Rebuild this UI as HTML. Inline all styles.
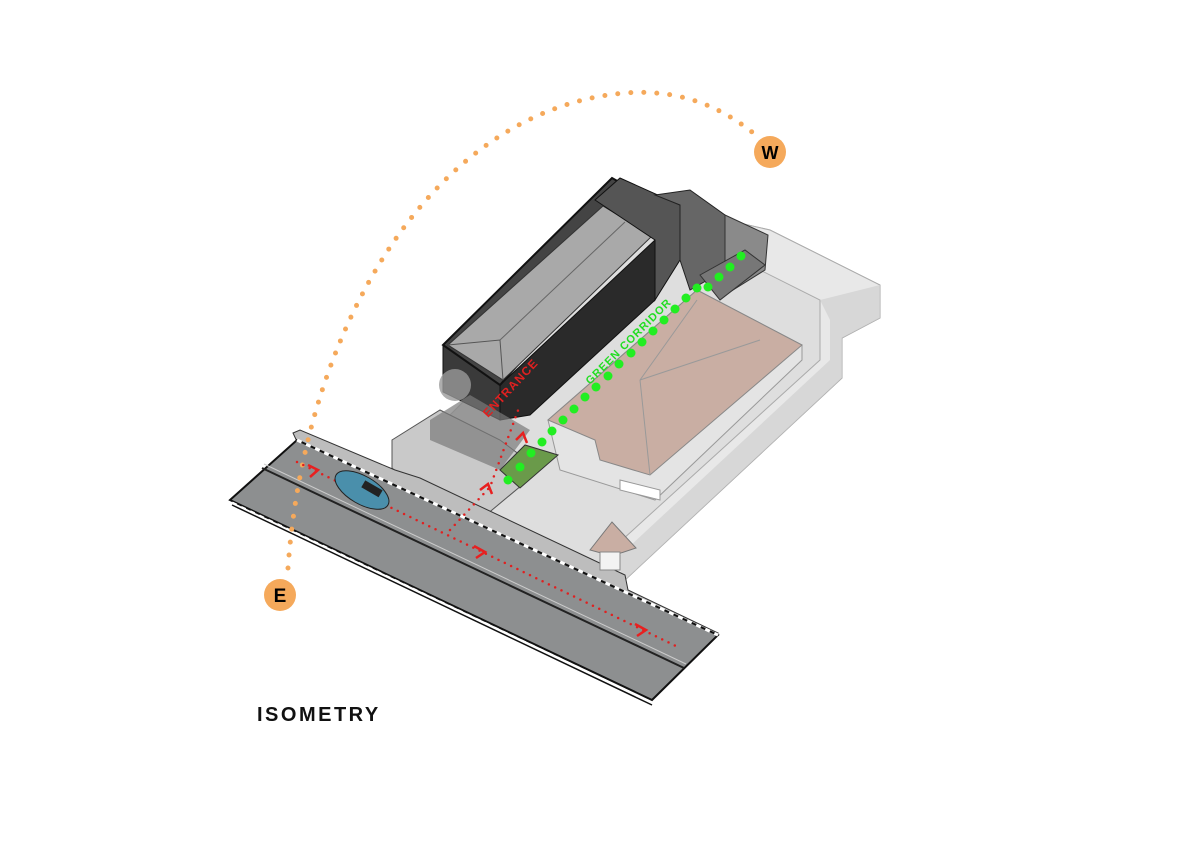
<!DOCTYPE html>
<html><head><meta charset="utf-8"><style>
html,body{margin:0;padding:0;background:#fff;}
svg{display:block;}
</style></head><body>
<svg width="1200" height="848" viewBox="0 0 1200 848" xmlns="http://www.w3.org/2000/svg" font-family="'Liberation Sans',sans-serif">
<rect width="1200" height="848" fill="#fff"/>
<!-- site ground -->
<polygon points="392,468 445,420 660,205 770,230 880,285 880,318 842,338 842,378 625,580" fill="#dedede" stroke="#bbb"/>
<polygon points="660,205 770,230 880,285 880,318 842,338 842,378 625,580 600,560 820,360 820,300 740,260" fill="#e8e8e8" stroke="#aaa"/>
<polygon points="820,300 880,285 880,318 842,338 842,378 625,580 615,560 830,360 830,320" fill="#d0d0d0" opacity=".7"/>
<!-- front plaza -->
<polygon points="392,468 392,440 440,410 500,440 540,470 480,520 420,495" fill="#c9c9c9" stroke="#555"/>
<!-- sidewalk -->
<polygon points="293,433 300,430 395,470 420,478 625,575 628,590 718,633 700,638 620,600 300,448" fill="#bdbdbd" stroke="#333"/>
<!-- road -->
<polygon points="297,440 718,635 652,700 230,500" fill="#8d8f90" stroke="#111" stroke-width="2"/>
<line x1="262" y1="468" x2="684" y2="668" stroke="#222" stroke-width="2"/>
<line x1="264" y1="464" x2="686" y2="664" stroke="#ccc" stroke-width="1"/>
<line x1="297" y1="440" x2="718" y2="635" stroke="#fff" stroke-width="3" stroke-dasharray="5 5"/>
<line x1="232" y1="503" x2="652" y2="703" stroke="#fff" stroke-width="3" stroke-dasharray="5 5"/>
<line x1="232" y1="505" x2="652" y2="705" stroke="#111" stroke-width="1.5"/>
<!-- pink building base -->
<polygon points="548,420 697,290 802,345 802,360 655,500 560,470" fill="#e4e4e4" stroke="#999"/>
<polygon points="620,480 660,490 660,500 620,490" fill="#fff" stroke="#999"/>
<!-- pink roof -->
<polygon points="548,420 697,290 802,345 650,475 600,460 595,440" fill="#c9aea3" stroke="#888"/>
<line x1="640" y1="380" x2="697" y2="300" stroke="#999"/>
<line x1="640" y1="380" x2="650" y2="475" stroke="#999"/>
<line x1="640" y1="380" x2="760" y2="340" stroke="#999"/>
<!-- gatehouse -->
<polygon points="590,550 612,522 636,548 612,556" fill="#c9aea3" stroke="#777"/>
<rect x="600" y="552" width="20" height="18" fill="#f3f3f3" stroke="#888"/>
<!-- main building -->
<polygon points="443,345 500,385 500,420 443,392" fill="#3a3a3a" stroke="#111"/>
<polygon points="500,385 655,240 655,300 530,415 500,420" fill="#2a2a2a" stroke="#111"/>
<polygon points="443,345 612,178 660,205 500,385" fill="#444" stroke="#111" stroke-width="2"/>
<polygon points="448,345 603,206 652,236 503,380" fill="#a9a9a9" stroke="#333"/>
<polyline points="448,345 500,340 503,380" fill="none" stroke="#555"/>
<line x1="500" y1="340" x2="625" y2="222" stroke="#666"/>
<!-- tower -->
<polygon points="595,200 620,178 680,205 680,260 655,300 655,240" fill="#555" stroke="#111"/>
<polygon points="655,195 690,190 725,215 725,270 690,290 680,260 680,205" fill="#666" stroke="#222"/>
<polygon points="725,215 768,235 765,270 725,295" fill="#8a8a8a" stroke="#333"/>
<!-- plantings -->
<polygon points="430,420 470,395 530,430 500,470 430,440" fill="#7a7a7a" opacity=".7"/>
<circle cx="455" cy="385" r="16" fill="#9a9a9a" opacity=".8"/>
<polygon points="500,470 525,445 558,455 520,488" fill="#6a9a4a" stroke="#333"/>
<polygon points="700,275 745,250 765,265 720,300" fill="#777" stroke="#333"/>
<!-- orange arc -->
<path d="M288,568 C 305,330 430,110 625,93 C 690,88 730,115 752,132" fill="none" stroke="#f5a95b" stroke-width="5" stroke-linecap="round" stroke-dasharray="0 13"/>
<circle cx="280" cy="595" r="16" fill="#f5a95b"/>
<text x="280" y="602" font-size="19" font-weight="bold" text-anchor="middle">E</text>
<circle cx="770" cy="152" r="16" fill="#f5a95b"/>
<text x="770" y="159" font-size="18" font-weight="bold" text-anchor="middle">W</text>
<!-- red paths -->
<line x1="297" y1="462" x2="680" y2="648" stroke="#e02020" stroke-width="2.5" stroke-linecap="round" stroke-dasharray="0 7"/>
<polyline points="450,530 490,487 520,405" fill="none" stroke="#e02020" stroke-width="2.5" stroke-linecap="round" stroke-dasharray="0 7"/>
<g fill="none" stroke="#e82020" stroke-width="2.5">
<polyline points="308,465 318,470 310,477"/>
<polyline points="474,546 485,552 476,558"/>
<polyline points="635,624 646,630 637,636"/>
<polyline points="480,490 488,484 492,494"/>
<polyline points="516,440 523,433 527,443"/>
</g>
<!-- car -->
<ellipse cx="362" cy="490" rx="30" ry="14" transform="rotate(30 362 490)" fill="#4a8fab" stroke="#222"/>
<rect x="360" y="480" width="20" height="8" transform="rotate(30 362 490)" fill="#222"/>
<!-- green dots -->
<g fill="#22ee22">
<circle cx="508" cy="480" r="4.5"/><circle cx="520" cy="467" r="4.5"/><circle cx="531" cy="453" r="4.5"/><circle cx="542" cy="442" r="4.5"/>
<circle cx="552" cy="431" r="4.5"/><circle cx="563" cy="420" r="4.5"/><circle cx="574" cy="409" r="4.5"/><circle cx="585" cy="397" r="4.5"/>
<circle cx="596" cy="387" r="4.5"/><circle cx="608" cy="376" r="4.5"/><circle cx="619" cy="364" r="4.5"/><circle cx="631" cy="353" r="4.5"/>
<circle cx="642" cy="342" r="4.5"/><circle cx="653" cy="331" r="4.5"/><circle cx="664" cy="320" r="4.5"/><circle cx="675" cy="309" r="4.5"/>
<circle cx="686" cy="298" r="4.5"/><circle cx="697" cy="288" r="4.5"/><circle cx="708" cy="287" r="4.5"/><circle cx="719" cy="277" r="4.5"/>
<circle cx="730" cy="267" r="4.5"/><circle cx="741" cy="256" r="4.5"/>
</g>
<text x="0" y="0" font-size="12" font-weight="bold" fill="#e02020" letter-spacing="1" transform="translate(488,418) rotate(-47)">ENTRANCE</text>
<text x="0" y="0" font-size="11" font-weight="bold" fill="#22dd22" letter-spacing="1" transform="translate(590,385) rotate(-45)">GREEN CORRIDOR</text>
<text x="257" y="721" font-size="20" font-weight="bold" letter-spacing="2.5" fill="#111">ISOMETRY</text>
</svg>
</body></html>
